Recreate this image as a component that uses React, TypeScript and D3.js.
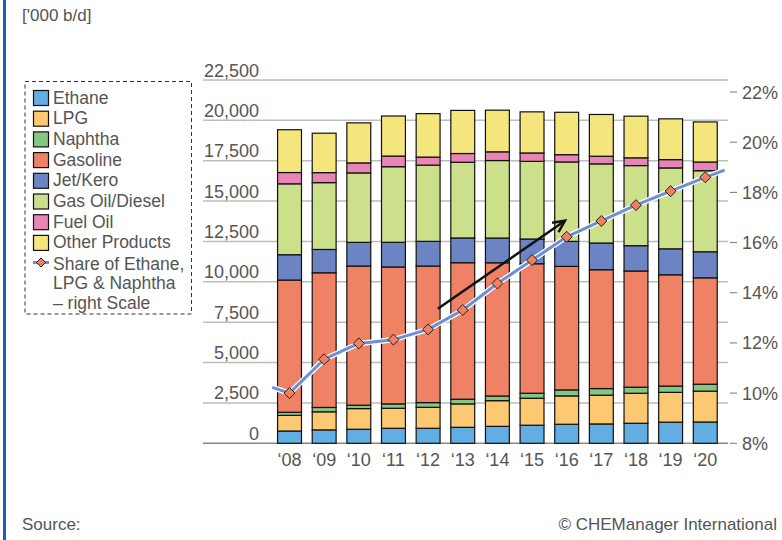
import React from "react";
import * as d3 from "d3";

const years = ["‘08", "‘09", "‘10", "‘11", "‘12", "‘13", "‘14", "‘15", "‘16", "‘17", "‘18", "‘19", "‘20"];
const seriesNames = ["Ethane", "LPG", "Naphtha", "Gasoline", "Jet/Kero", "Gas Oil/Diesel", "Fuel Oil", "Other Products"];
const seriesColors = ["#62aee3", "#fdc872", "#84c784", "#ef8165", "#6c84c4", "#ccdf8a", "#e884b6", "#f4e67c"];

const ethane = [760, 830, 870, 930, 930, 990, 1050, 1120, 1180, 1200, 1240, 1310, 1320];
const lpg = [970, 1120, 1280, 1240, 1300, 1450, 1590, 1670, 1755, 1780, 1860, 1845, 1910];
const naphtha = [190, 270, 210, 270, 290, 290, 290, 310, 370, 410, 375, 390, 430];
const gasoline = [8190, 8340, 8620, 8480, 8460, 8455, 8250, 8020, 7650, 7360, 7195, 6890, 6590];
const jetKero = [1570, 1445, 1465, 1530, 1527, 1532, 1532, 1532, 1550, 1655, 1570, 1610, 1612];
const gasOil = [4390, 4140, 4300, 4680, 4720, 4690, 4800, 4810, 4920, 4900, 4960, 5010, 5020];
const fuelOil = [700, 620, 620, 660, 500, 540, 540, 520, 450, 475, 480, 515, 540];
const otherProducts = [2650, 2440, 2480, 2480, 2690, 2670, 2580, 2545, 2625, 2585, 2580, 2525, 2480];
const seriesValues = [ethane, lpg, naphtha, gasoline, jetKero, gasOil, fuelOil, otherProducts];

const shareLine = [10.0, 11.35, 11.98, 12.13, 12.54, 13.31, 14.37, 15.3, 16.23, 16.86, 17.49, 18.05, 18.6];
const shareLineStart = 10.23;
const shareLineEnd = 18.89;

const leftTicks = [0, 2500, 5000, 7500, 10000, 12500, 15000, 17500, 20000, 22500];
const rightTicks = [8, 10, 12, 14, 16, 18, 20, 22];

// arrow annotation in data units: [category index, right-scale %]
const arrowFrom = [4.28, 13.36];
const arrowTo = [7.95, 16.87];

const legendLabels = [...seriesNames];
const lineLegend = ["Share of Ethane,", "LPG & Naphtha", "– right Scale"];

const FONT = "'Liberation Sans', Arial, sans-serif";
const TXT = "#555";

export default function App() {
  const W = 782, H = 540;
  const x0 = 272.2, x1 = 722.6;
  const x = d3.scaleBand<string>().domain(years).range([x0, x1]).paddingInner(0.31).paddingOuter(0.155);
  const yL = d3.scaleLinear().domain([0, 22500]).range([443.3, 80]);
  const yR = d3.scaleLinear().domain([8, 22]).range([443.3, 92]);
  const step = x.step();
  const cx = (i: number) => x(years[0])! + x.bandwidth() / 2 + i * step;

  const rows = years.map((yr, i) => {
    const o: any = { year: yr };
    seriesNames.forEach((s, k) => (o[s] = seriesValues[k][i]));
    return o;
  });
  const stack = d3.stack<any>().keys(seriesNames)(rows);

  const linePts: [number, number][] = [
    [x0, yR(shareLineStart)],
    ...shareLine.map((v, i) => [cx(i), yR(v)] as [number, number]),
    [x1 + 2, yR(shareLineEnd)],
  ];
  const lineGen = d3.line();
  const linePath = lineGen(linePts)!;

  const diamond = (px: number, py: number, r: number) =>
    `M${px},${py - r}L${px + r},${py}L${px},${py + r}L${px - r},${py}Z`;

  const ax = cx(arrowFrom[0]), ay = yR(arrowFrom[1]);
  const bx = cx(arrowTo[0]), by = yR(arrowTo[1]);
  const ang = Math.atan2(by - ay, bx - ax);
  const hl = 13, ha = 0.45;
  const h1 = [bx - hl * Math.cos(ang - ha), by - hl * Math.sin(ang - ha)];
  const h2 = [bx - hl * Math.cos(ang + ha), by - hl * Math.sin(ang + ha)];

  const legX = 25, legY = 81.5, legW = 166.5, legH = 232.5;
  const rowH = 20.7;

  return (
    <svg width={W} height={H} style={{ position: "absolute", left: 0, top: 0, background: "#fff" }} fontFamily={FONT}>
      <rect x={0} y={0} width={W} height={H} fill="#fff" />
      <rect x={3} y={0} width={3} height={H} fill="#1d5cb8" />
      <text x={22} y={21} fontSize={17} fill={TXT}>['000 b/d]</text>

      {/* gridlines */}
      {leftTicks.map((t) => (
        <g key={t}>
          <line x1={203} x2={728} y1={yL(t)} y2={yL(t)} stroke={t === 0 ? "#888" : "#bdbdbd"} strokeWidth={1.5} />
          <text x={259} y={yL(t) - 3.5} textAnchor="end" fontSize={18} fill={TXT}>
            {d3.format(",")(t)}
          </text>
        </g>
      ))}

      {/* right axis */}
      {rightTicks.map((t) => (
        <g key={t}>
          <line x1={730} x2={737} y1={yR(t)} y2={yR(t)} stroke="#777" strokeWidth={1} />
          <text x={742} y={yR(t) + 6.5} fontSize={18} fill={TXT}>{t}%</text>
        </g>
      ))}

      {/* bars */}
      {stack.map((layer, k) => (
        <g key={seriesNames[k]}>
          {layer.map((d, i) => (
            <rect
              key={i}
              x={x(years[i])}
              width={x.bandwidth()}
              y={yL(d[1])}
              height={yL(d[0]) - yL(d[1])}
              fill={seriesColors[k]}
              stroke="#111"
              strokeWidth={1.2}
            />
          ))}
        </g>
      ))}

      {/* x labels */}
      {years.map((yr, i) => (
        <text key={yr} x={cx(i)} y={466} textAnchor="middle" fontSize={18} fill={TXT}>{yr}</text>
      ))}

      {/* share line */}
      <path d={linePath} fill="none" stroke="#fff" strokeWidth={5.5} strokeLinejoin="round" />
      <path d={linePath} fill="none" stroke="#6f8fd4" strokeWidth={3} strokeLinejoin="round" />
      {shareLine.map((v, i) => (
        <path key={i} d={diamond(cx(i), yR(v), 5.5)} fill="#f0805f" stroke="#222" strokeWidth={1} />
      ))}

      {/* arrow */}
      <line x1={ax} y1={ay} x2={bx} y2={by} stroke="#111" strokeWidth={2.5} />
      <polyline points={`${h1[0]},${h1[1]} ${bx},${by} ${h2[0]},${h2[1]}`} fill="none" stroke="#111" strokeWidth={2.5} />

      {/* legend */}
      <rect x={legX} y={legY} width={legW} height={legH} fill="#fff" stroke="#333" strokeWidth={1} strokeDasharray="4,3" />
      {legendLabels.map((s, k) => (
        <g key={s}>
          <rect x={33.5} y={legY + 9 + k * rowH} width={15} height={15} fill={seriesColors[k]} stroke="#111" strokeWidth={1.2} />
          <text x={53} y={legY + 22 + k * rowH} fontSize={17.5} fill={TXT}>{s}</text>
        </g>
      ))}
      <line x1={33} x2={49} y1={legY + 181} y2={legY + 181} stroke="#6f8fd4" strokeWidth={3} />
      <path d={diamond(41, legY + 181, 4.5)} fill="#f0805f" stroke="#222" strokeWidth={1} />
      {lineLegend.map((t, j) => (
        <text key={t} x={53} y={legY + 188 + j * 19.5} fontSize={17.5} fill={TXT}>{t}</text>
      ))}

      <text x={22} y={530} fontSize={17} fill={TXT}>Source:</text>
      <text x={777} y={530} textAnchor="end" fontSize={17} fill={TXT}>© CHEManager International</text>
    </svg>
  );
}
